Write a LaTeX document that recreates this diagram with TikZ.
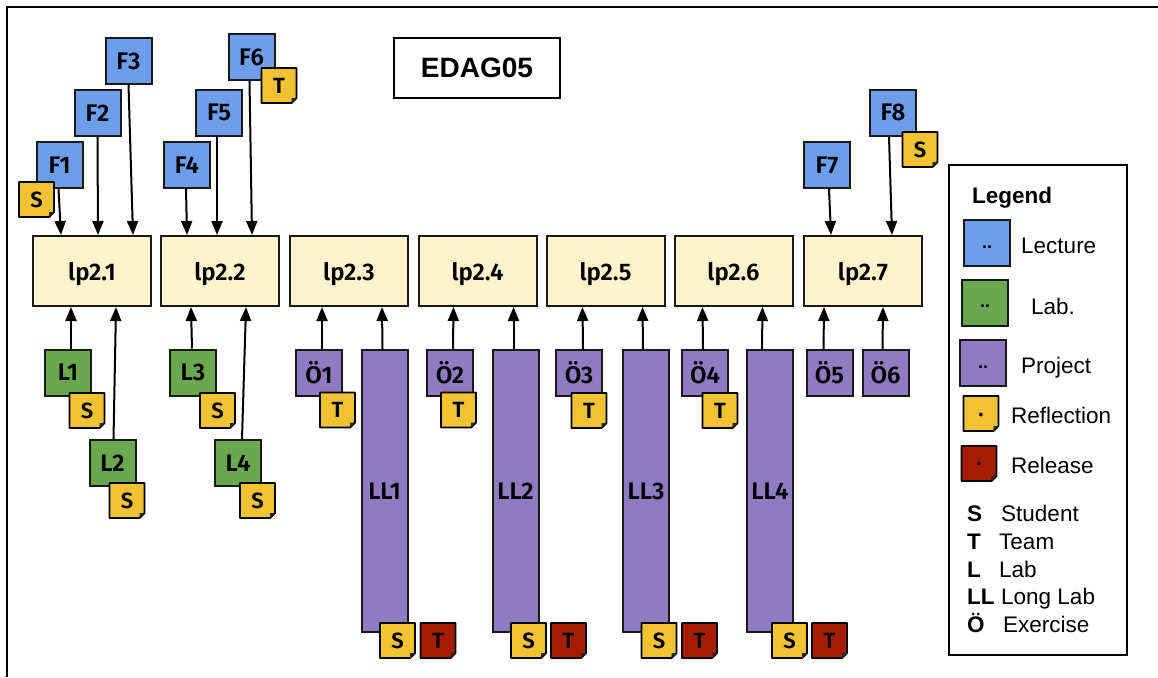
\documentclass[tikz,border=0pt]{standalone}
\usepackage{fontspec}
\setmainfont{Liberation Sans}
\newfontfamily\myfira{Fira Sans SemiBold}
\usetikzlibrary{arrows.meta,calc}
\definecolor{lecblue}{HTML}{6D9EEB}
\definecolor{labgreen}{HTML}{6AA84F}
\definecolor{projpurple}{HTML}{8E7CC3}
\definecolor{reflyellow}{HTML}{F1C232}
\definecolor{relred}{HTML}{A61C00}
\definecolor{lpfill}{HTML}{FFF2CC}
\newcommand{\myLbl}{\myfira\fontsize{24}{24}\selectfont}
\newcommand{\myNoteFont}{\myfira\fontsize{22}{22}\selectfont}
\newcommand{\myLg}{\fontsize{22.5}{22.5}\selectfont}
\newcommand{\myDots}{\fontsize{18}{18}\selectfont\bfseries}
\newcommand{\mynote}[5]{%
  \draw[line width=1.8pt, fill=#4, line join=round]
    ($(#2,#3)+(-17.5,-17.5)$) -- ++(35,0) -- ++(0,30) -- ++(-5,5) -- ++(-30,0) -- cycle;
  \fill[black!85] ($(#2,#3)+(17.5,12.5)$) -- ++(-5,5) -- ++(0,-5) -- cycle;
  \node[notetext] (#1) at (#2,#3) {#5};
}
\tikzset{
  box/.style={draw=black!90, line width=2pt, inner sep=0pt, font=\myLbl},
  lpbox/.style={box, fill=lpfill, minimum width=118pt, minimum height=70pt, text depth=0pt},
  lect/.style={box, fill=lecblue, minimum width=46pt, minimum height=46pt},
  labbox/.style={box, fill=labgreen, minimum width=46pt, minimum height=46pt},
  projbox/.style={box, fill=projpurple, minimum width=46pt, minimum height=46pt},
  longbox/.style={box, fill=projpurple, minimum width=46pt, minimum height=282pt},
  swatch/.style={box, minimum width=46pt, minimum height=46pt, font=\myDots},
  notetext/.style={inner sep=0pt, font=\myNoteFont},
  arr/.style={line width=2pt, -{Triangle[width=11pt,length=14pt]}},
  lgtxt/.style={inner sep=0pt, font=\myLg, anchor=base west},
  lgbold/.style={inner sep=0pt, font=\myLg\bfseries, anchor=base west}
}
\begin{document}
\begin{tikzpicture}[x=1pt,y=-1pt]
\useasboundingbox (0,0) rectangle (1158,677);
\fill[white] (0,0) rectangle (1158,677);
\draw[line width=2.2pt] (7,677) -- (7,7) -- (1158,7);

% title
\node[draw=black, line width=1.8pt, fill=white, minimum width=166pt, minimum height=60pt, inner sep=0pt,
      font=\fontsize{28}{28}\selectfont\bfseries] (title) at (477,68) {EDAG05};

% learning periods
\node[lpbox] (lp1) at (92,271) {lp2.1};
\node[lpbox] (lp2) at (220,271) {lp2.2};
\node[lpbox] (lp3) at (349,271) {lp2.3};
\node[lpbox] (lp4) at (477.5,271) {lp2.4};
\node[lpbox] (lp5) at (605.5,271) {lp2.5};
\node[lpbox] (lp6) at (733.5,271) {lp2.6};
\node[lpbox] (lp7) at (863,271) {lp2.7};

% lectures
\node[lect] (F1) at (59.5,165) {F1};
\node[lect] (F2) at (97.5,113) {F2};
\node[lect] (F3) at (128.5,61) {F3};
\node[lect] (F4) at (187,165) {F4};
\node[lect] (F5) at (219,112.5) {F5};
\node[lect] (F6) at (251.5,57) {F6};
\node[lect] (F7) at (827,165) {F7};
\node[lect] (F8) at (893,112.5) {F8};

\draw[arr] ($(F1.south west)+(23,0)$) -- ($(lp1.north west)+(29,0)$);
\draw[arr] ($(F2.south west)+(24,0)$) -- ($(lp1.north west)+(66,0)$);
\draw[arr] ($(F3.south west)+(24,0)$) -- ($(lp1.north west)+(101,0)$);
\draw[arr] ($(F4.south west)+(23,0)$) -- ($(lp2.north west)+(27,0)$);
\draw[arr] ($(F5.south west)+(22,0)$) -- ($(lp2.north west)+(57,0)$);
\draw[arr] ($(F6.south west)+(22,0)$) -- ($(lp2.north west)+(92,0)$);
\draw[arr] ($(F7.south west)+(26,0)$) -- ($(lp7.north west)+(28,0)$);
\draw[arr] ($(F8.south west)+(20,0)$) -- ($(lp7.north west)+(89,0)$);

\mynote{nF1}{36.5}{199.5}{reflyellow}{S}
\mynote{nF6}{279}{85.5}{reflyellow}{T}
\mynote{nF8}{920}{149.5}{reflyellow}{S}

% labs
\node[labbox] (L1) at (68,372.5) {L1};
\node[labbox] (L2) at (112.5,463) {L2};
\node[labbox] (L3) at (193,372.5) {L3};
\node[labbox] (L4) at (238,463) {L4};
\draw[arr] ($(L1.north west)+(27,0)$) -- ($(lp1.south west)+(39,0)$);
\draw[arr] ($(L2.north west)+(25,0)$) -- ($(lp1.south west)+(84,0)$);
\draw[arr] ($(L3.north west)+(23,0)$) -- ($(lp2.south west)+(31,0)$);
\draw[arr] ($(L4.north west)+(28,0)$) -- ($(lp2.south west)+(86,0)$);
\mynote{nL1}{87}{410.5}{reflyellow}{S}
\mynote{nL2}{127}{500.5}{reflyellow}{S}
\mynote{nL3}{217.5}{410.5}{reflyellow}{S}
\mynote{nL4}{257.5}{500.5}{reflyellow}{S}

% exercises and long labs
\node[projbox] (O1) at (319,373) {Ö1};
\node[projbox] (O2) at (450,373) {Ö2};
\node[projbox] (O3) at (579,373) {Ö3};
\node[projbox] (O4) at (705,373) {Ö4};
\node[projbox] (O5) at (829.5,373) {Ö5};
\node[projbox] (O6) at (885.5,373) {Ö6};
\node[longbox] (LL1) at (384.5,491) {LL1};
\node[longbox] (LL2) at (515.5,491) {LL2};
\node[longbox] (LL3) at (646,491) {LL3};
\node[longbox] (LL4) at (770,491) {LL4};

\draw[arr] ($(O1.north west)+(27,0)$) -- ($(lp3.south west)+(33,0)$);
\draw[arr] ($(LL1.north west)+(22,0)$) -- ($(lp3.south west)+(93,0)$);
\draw[arr] ($(O2.north west)+(27,0)$) -- ($(lp4.south west)+(36,0)$);
\draw[arr] ($(LL2.north west)+(22,0)$) -- ($(lp4.south west)+(96,0)$);
\draw[arr] ($(O3.north west)+(28,0)$) -- ($(lp5.south west)+(37,0)$);
\draw[arr] ($(LL3.north west)+(21,0)$) -- ($(lp5.south west)+(97,0)$);
\draw[arr] ($(O4.north west)+(22,0)$) -- ($(lp6.south west)+(29,0)$);
\draw[arr] ($(LL4.north west)+(16,0)$) -- ($(lp6.south west)+(89,0)$);
\draw[arr] ($(O5.north west)+(18,0)$) -- ($(lp7.south west)+(21,0)$);
\draw[arr] ($(O6.north west)+(21,0)$) -- ($(lp7.south west)+(80,0)$);

\mynote{nO1}{337.5}{410}{reflyellow}{T}
\mynote{nO2}{458.5}{410}{reflyellow}{T}
\mynote{nO3}{589}{410.5}{reflyellow}{T}
\mynote{nO4}{720}{410.5}{reflyellow}{T}
\mynote{nLL1s}{397.5}{640.5}{reflyellow}{S}
\mynote{nLL1t}{438}{640.5}{relred}{T}
\mynote{nLL2s}{528.5}{640.5}{reflyellow}{S}
\mynote{nLL2t}{568.5}{640.5}{relred}{T}
\mynote{nLL3s}{659}{640.5}{reflyellow}{S}
\mynote{nLL3t}{699.5}{640.5}{relred}{T}
\mynote{nLL4s}{789.5}{640.5}{reflyellow}{S}
\mynote{nLL4t}{829.5}{640.5}{relred}{T}

% legend
\node[draw=black, line width=1.8pt, minimum width=178pt, minimum height=490pt, inner sep=0pt] (legend) at (1038,410) {};
\node[lgbold] (lgTitle) at (972,203) {Legend};
\node[swatch, fill=lecblue] (sw1) at (987,243) {\smash{\raisebox{-5pt}{..}}};
\node[lgtxt] (lgLec) at (1021,253) {Lecture};
\node[swatch, fill=labgreen] (sw2) at (985,302.5) {\smash{\raisebox{-5pt}{..}}};
\node[lgtxt] (lgLab) at (1031,314) {Lab.};
\node[swatch, fill=projpurple] (sw3) at (983,363) {\smash{\raisebox{-5pt}{..}}};
\node[lgtxt] (lgProj) at (1021,373) {Project};
\mynote{sw4}{981}{413.5}{reflyellow}{\myDots\smash{\raisebox{-3pt}{.}}}
\node[lgtxt] (lgRefl) at (1011,423) {Reflection};
\mynote{sw5}{979}{463.5}{relred}{\myDots\smash{\raisebox{-2pt}{.}}}
\node[lgtxt] (lgRel) at (1011,473) {Release};

\node[lgbold] (abS) at (967,521) {S};
\node[lgtxt] (abSt) at (1001,521) {Student};
\node[lgbold] (abT) at (967,549) {T};
\node[lgtxt] (abTe) at (999,549) {Team};
\node[lgbold] (abL) at (967,577) {L};
\node[lgtxt] (abLa) at (999,577) {Lab};
\node[lgbold] (abLL) at (967,604) {LL};
\node[lgtxt] (abLo) at (1001,604) {Long Lab};
\node[lgbold] (abO) at (967,632) {Ö};
\node[lgtxt] (abEx) at (1003,632) {Exercise};
\end{tikzpicture}
\end{document}
